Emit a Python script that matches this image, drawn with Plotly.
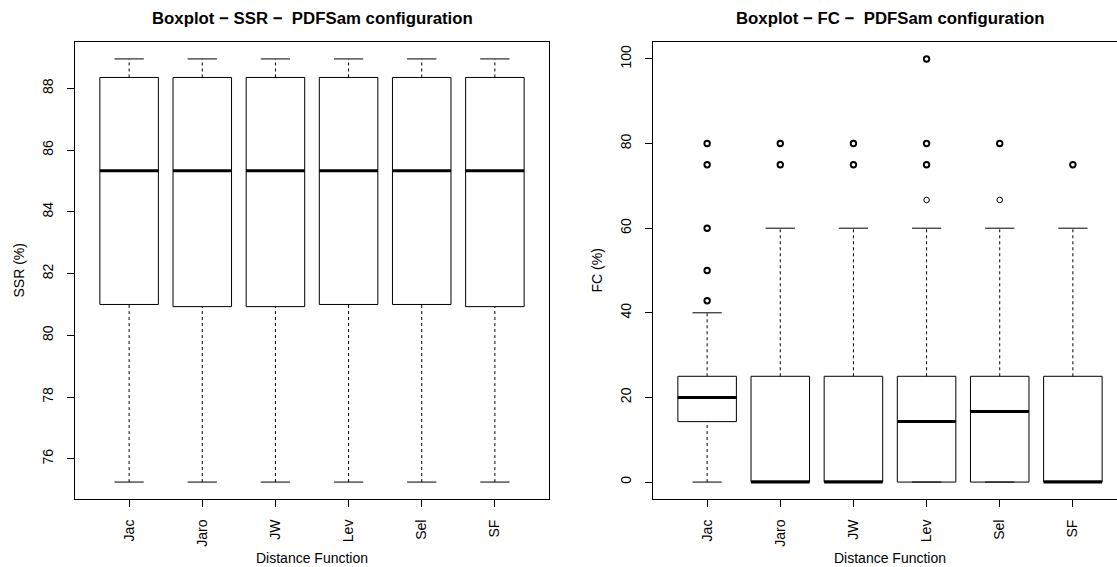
import plotly.graph_objects as go

W, H = 1117, 567

# Distance functions compared on the x axis
methods = ["Jac", "Jaro", "JW", "Lev", "Sel", "SF"]

# SSR (%) box statistics per distance function
ssr_low = [75.25, 75.25, 75.25, 75.25, 75.25, 75.25]
ssr_q1 = [81.0, 80.93, 80.93, 81.0, 81.0, 80.93]
ssr_med = [85.33, 85.33, 85.33, 85.33, 85.33, 85.33]
ssr_q3 = [88.35, 88.35, 88.35, 88.35, 88.35, 88.35]
ssr_high = [88.95, 88.95, 88.95, 88.95, 88.95, 88.95]
ssr_ticks = [76, 78, 80, 82, 84, 86, 88]

# FC (%) box statistics per distance function
fc_low = [0, 0, 0, 0, 0, 0]
fc_q1 = [14.29, 0, 0, 0, 0, 0]
fc_med = [20, 0, 0, 14.29, 16.67, 0]
fc_q3 = [25, 25, 25, 25, 25, 25]
fc_high = [40, 60, 60, 60, 60, 60]
fc_ticks = [0, 20, 40, 60, 80, 100]

# FC outliers: distance function, value, number of overlapping runs
fc_out_method = ["Jac", "Jac", "Jac", "Jac", "Jac",
                 "Jaro", "Jaro", "JW", "JW",
                 "Lev", "Lev", "Lev", "Lev",
                 "Sel", "Sel", "SF"]
fc_out_value = [80, 75, 60, 50, 42.86,
                80, 75, 80, 75,
                100, 80, 75, 66.67,
                80, 66.67, 75]
fc_out_count = [2, 2, 2, 2, 2,
                2, 2, 2, 2,
                2, 2, 2, 1,
                2, 1, 2]

FONT = "Liberation Sans, Arial, Helvetica, sans-serif"
BOX_W = 0.8
STAPLE_W = 0.4


def px(x):
    return x / W


def py(y):
    return 1 - y / H


# plot region in pixels
TOP, BOTTOM = 42, 499
L_LEFT, L_RIGHT = 75, 549
R_LEFT = 653
n = len(methods)
xr = [0.5 - 0.04 * n, n + 0.5 + 0.04 * n]
unit = (L_RIGHT - L_LEFT) / (xr[1] - xr[0])
xr_right = [xr[0], xr[0] + (W - R_LEFT) / unit]


def pad_range(lo, hi):
    d = (hi - lo) * 0.04
    return [lo - d, hi + d]


fig = go.Figure()


def add_panel(xa, ya, low, q1, med, q3, high):
    pos = list(range(1, n + 1))
    # dashed whiskers
    wx, wy = [], []
    for i, p in enumerate(pos):
        wx += [p, p, None, p, p, None]
        wy += [q3[i], high[i], None, low[i], q1[i], None]
    fig.add_trace(go.Scatter(x=wx, y=wy, mode="lines", xaxis=xa, yaxis=ya,
                             line=dict(color="black", width=1, dash="3px,3px"),
                             hoverinfo="skip", showlegend=False))
    # boxes
    fig.add_trace(go.Box(x=pos, q1=q1, median=med, q3=q3,
                         lowerfence=q1, upperfence=q3, width=BOX_W,
                         whiskerwidth=0, fillcolor="white",
                         line=dict(color="black", width=1),
                         xaxis=xa, yaxis=ya, showlegend=False))
    # staples
    sx, sy = [], []
    for i, p in enumerate(pos):
        sx += [p - STAPLE_W / 2, p + STAPLE_W / 2, None,
               p - STAPLE_W / 2, p + STAPLE_W / 2, None]
        sy += [high[i], high[i], None, low[i], low[i], None]
    fig.add_trace(go.Scatter(x=sx, y=sy, mode="lines", xaxis=xa, yaxis=ya,
                             line=dict(color="black", width=1),
                             hoverinfo="skip", showlegend=False))
    # thick medians
    mx, my = [], []
    for i, p in enumerate(pos):
        mx += [p - BOX_W / 2, p + BOX_W / 2, None]
        my += [med[i], med[i], None]
    fig.add_trace(go.Scatter(x=mx, y=my, mode="lines", xaxis=xa, yaxis=ya,
                             line=dict(color="black", width=3),
                             hoverinfo="skip", showlegend=False))


add_panel("x", "y", ssr_low, ssr_q1, ssr_med, ssr_q3, ssr_high)
add_panel("x2", "y2", fc_low, fc_q1, fc_med, fc_q3, fc_high)

# FC outliers, heavier outline where several runs coincide
out_x = [methods.index(m) + 1 for m in fc_out_method]
for heavy in (False, True):
    idx = [i for i, c in enumerate(fc_out_count) if (c > 1) == heavy]
    fig.add_trace(go.Scatter(
        x=[out_x[i] for i in idx], y=[fc_out_value[i] for i in idx],
        mode="markers", xaxis="x2", yaxis="y2", showlegend=False,
        marker=dict(symbol="circle-open", size=5.5, color="black",
                    line=dict(color="black", width=1.9 if heavy else 1))))

ydom = [py(BOTTOM), py(TOP)]
tickfont = dict(family=FONT, size=14, color="black")
common_x = dict(tickvals=list(range(1, n + 1)), ticktext=methods,
                tickangle=-90, ticks="outside", ticklen=7, tickcolor="black",
                showline=True, linecolor="black", linewidth=1,
                showgrid=False, zeroline=False, tickfont=tickfont,
                ticklabelstandoff=7)
common_y = dict(tickangle=-90, ticks="outside", ticklen=7, tickcolor="black",
                showline=True, linecolor="black", linewidth=1,
                showgrid=False, zeroline=False, tickfont=tickfont,
                ticklabelstandoff=8)

fig.update_layout(
    width=W, height=H,
    margin=dict(l=0, r=0, t=0, b=0),
    paper_bgcolor="white", plot_bgcolor="white",
    xaxis=dict(domain=[px(L_LEFT), px(L_RIGHT)], range=xr, anchor="y",
               mirror=True, **common_x),
    yaxis=dict(domain=ydom, range=pad_range(min(ssr_low), max(ssr_high)),
               tickvals=ssr_ticks, anchor="x", mirror=True, **common_y),
    xaxis2=dict(domain=[px(R_LEFT), 1.0], range=xr_right, anchor="y2",
                mirror=True, **common_x),
    yaxis2=dict(domain=ydom, range=pad_range(0, 100), tickvals=fc_ticks,
                anchor="x2", mirror=False, **common_y),
)

title_font = dict(family=FONT, size=16.8, color="black")
label_font = dict(family=FONT, size=14, color="black")
R_CENTER = R_LEFT + (L_RIGHT - L_LEFT) / 2
annotations = [
    dict(text="<b>Boxplot \u2212 SSR \u2212 \u00a0PDFSam configuration</b>",
         x=px((L_LEFT + L_RIGHT) / 2), y=py(18), font=title_font),
    dict(text="<b>Boxplot \u2212 FC \u2212 \u00a0PDFSam configuration</b>",
         x=px(R_CENTER), y=py(18), font=title_font),
    dict(text="SSR (%)", x=px(18), y=py((TOP + BOTTOM) / 2),
         textangle=-90, font=label_font),
    dict(text="FC (%)", x=px(18 + R_LEFT - L_LEFT), y=py((TOP + BOTTOM) / 2),
         textangle=-90, font=label_font),
    dict(text="Distance Function", x=px((L_LEFT + L_RIGHT) / 2), y=py(558),
         font=label_font),
    dict(text="Distance Function", x=px(R_CENTER), y=py(558),
         font=label_font),
]
for a in annotations:
    a.update(xref="paper", yref="paper", showarrow=False,
             xanchor="center", yanchor="middle")
fig.update_layout(annotations=annotations)

fig.write_html("out.html")
